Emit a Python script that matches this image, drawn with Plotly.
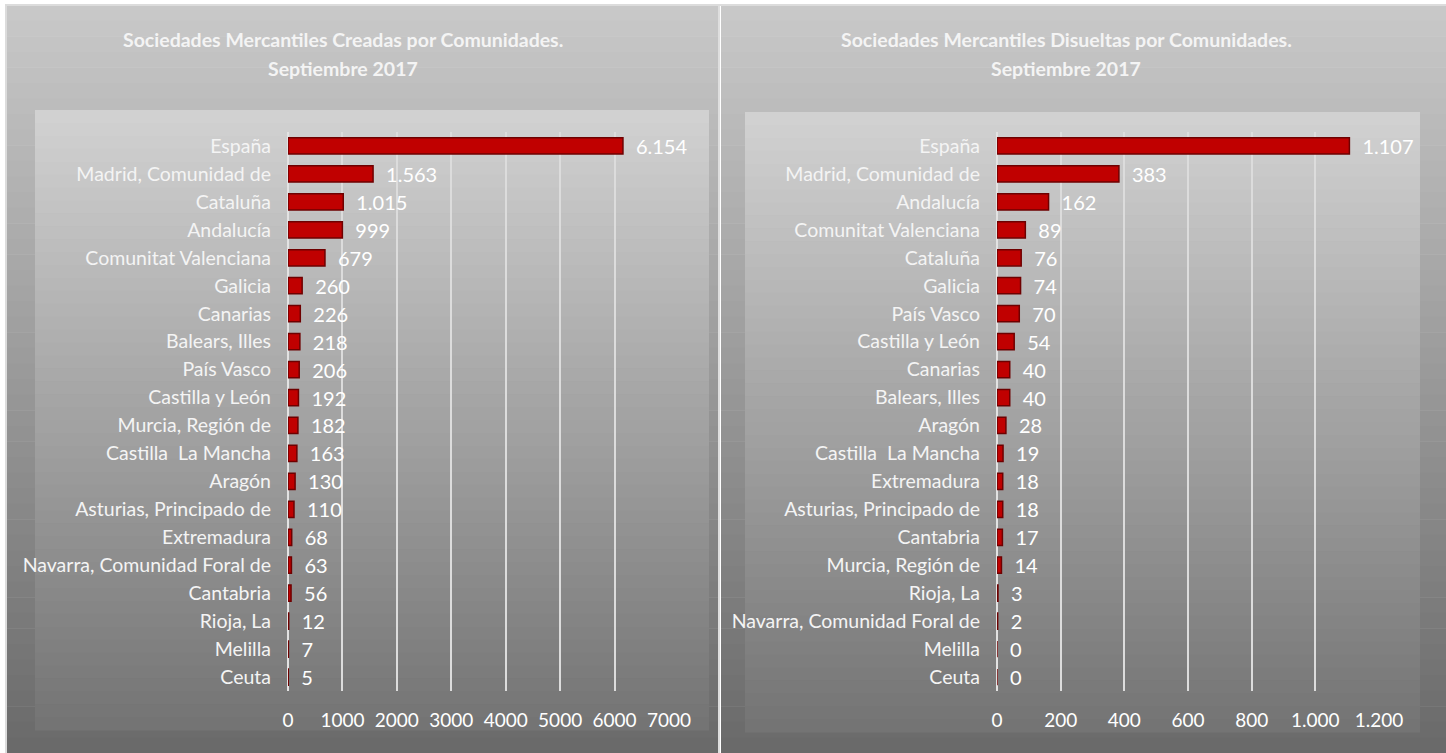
import plotly.graph_objects as go

W, H = 1446, 753

# --- data -------------------------------------------------------------------
creadas_cat = [
    "España", "Madrid, Comunidad de", "Cataluña", "Andalucía", "Comunitat Valenciana",
    "Galicia", "Canarias", "Balears, Illes", "País Vasco", "Castilla y León",
    "Murcia, Región de", "Castilla  La Mancha", "Aragón", "Asturias, Principado de",
    "Extremadura", "Navarra, Comunidad Foral de", "Cantabria", "Rioja, La", "Melilla", "Ceuta",
]
creadas_val = [6154, 1563, 1015, 999, 679, 260, 226, 218, 206, 192,
               182, 163, 130, 110, 68, 63, 56, 12, 7, 5]

disueltas_cat = [
    "España", "Madrid, Comunidad de", "Andalucía", "Comunitat Valenciana", "Cataluña",
    "Galicia", "País Vasco", "Castilla y León", "Canarias", "Balears, Illes",
    "Aragón", "Castilla  La Mancha", "Extremadura", "Asturias, Principado de", "Cantabria",
    "Murcia, Región de", "Rioja, La", "Navarra, Comunidad Foral de", "Melilla", "Ceuta",
]
disueltas_val = [1107, 383, 162, 89, 76, 74, 70, 54, 40, 40,
                 28, 19, 18, 18, 17, 14, 3, 2, 0, 0]

titulo_creadas = "Sociedades Mercantiles Creadas por Comunidades."
titulo_disueltas = "Sociedades Mercantiles Disueltas por Comunidades."
subtitulo = "Septiembre 2017"

FONT = "Lato"
RED = "#c00000"


def px(x):
    return x / W


def py(y):
    return 1 - y / H


def gradient(shapes, x0, x1, y0, y1, top, bottom, n=48):
    # vertical grey gradient built from thin strips
    step = (y1 - y0) / n
    for i in range(n):
        t = i / (n - 1)
        g = round(top + (bottom - top) * t)
        shapes.append(dict(
            type="rect", xref="paper", yref="paper", layer="below",
            x0=px(x0), x1=px(x1), y0=py(y0 + (i + 1) * step + 0.5), y1=py(y0 + i * step),
            line=dict(width=0), fillcolor=f"rgb({g},{g},{g})",
        ))


shapes = []
gradient(shapes, 5, 718, 5, 753, 200, 106)
gradient(shapes, 721, 1446, 5, 753, 200, 106)
gradient(shapes, 35, 709, 110, 730, 209, 116)
gradient(shapes, 745, 1420, 112, 732, 209, 116)
shapes += [
    dict(type="line", xref="paper", yref="paper", x0=px(719), x1=px(719), y0=0, y1=py(4),
         line=dict(color="#dedede", width=2)),
    dict(type="line", xref="paper", yref="paper", x0=px(6), x1=px(6), y0=0, y1=py(5),
         line=dict(color="#dcdcdc", width=2)),
    dict(type="line", xref="paper", yref="paper", x0=px(5), x1=1, y0=py(5), y1=py(5),
         line=dict(color="#dcdcdc", width=2)),
]

fig = go.Figure()

for cats, vals, xa, ya in [(creadas_cat, creadas_val, "x", "y"),
                            (disueltas_cat, disueltas_val, "x2", "y2")]:
    fig.add_trace(go.Bar(
        x=vals, y=cats, orientation="h", xaxis=xa, yaxis=ya,
        marker=dict(color=RED, line=dict(color="#6e0000", width=1.5)),
        width=0.58,
        texttemplate="\u2002%{x:,}", textposition="outside", cliponaxis=False,
        constraintext="none",
        textfont=dict(family=FONT, size=20, color="#ffffff"),
        showlegend=False,
    ))

common_x = dict(
    showgrid=True, gridcolor="#dcdcdc", gridwidth=2, zeroline=True,
    zerolinecolor="#e2e2e2", zerolinewidth=2, showline=False, ticks="",
    tickfont=dict(family=FONT, size=19, color="#ffffff"), ticklabelstandoff=16,
    fixedrange=True, automargin=False,
)
common_y = dict(
    autorange="reversed", showgrid=False, ticks="", showline=False,
    tickfont=dict(family=FONT, size=19.5, color="#f4f4f4"), ticklabelstandoff=16,
    domain=[py(691), py(132)], automargin=False,
)

title_font = dict(family=FONT, size=19.5, color="#f4f4f4")
annotations = []
for text, xc in [(titulo_creadas, 343), (titulo_disueltas, 1066)]:
    for line, yc in [(text, 40), (subtitulo, 68)]:
        annotations.append(dict(
            text=f"<b>{line}</b>", x=px(xc), y=py(yc), xref="paper", yref="paper",
            xanchor="center", yanchor="middle", showarrow=False, font=title_font,
        ))

fig.update_layout(
    width=W, height=H, margin=dict(l=0, r=0, t=0, b=0, pad=0),
    paper_bgcolor="#ffffff", plot_bgcolor="rgba(0,0,0,0)",
    separators=",.", bargap=0.42,
    shapes=shapes,
    xaxis=dict(common_x, domain=[px(288), px(669)], range=[0, 7000], dtick=1000),
    xaxis2=dict(common_x, domain=[px(997), px(1379)], range=[0, 1200], dtick=200,
                separatethousands=True, anchor="y2"),
    yaxis=dict(common_y, anchor="x"),
    yaxis2=dict(common_y, anchor="x2"),
    annotations=annotations,
)

page_fix = (
    "document.body.style.margin='0';"
    "document.body.style.overflow='hidden';"
    "document.documentElement.style.overflow='hidden';"
)
fig.write_html("out.html", config={"displayModeBar": False}, post_script=page_fix)
